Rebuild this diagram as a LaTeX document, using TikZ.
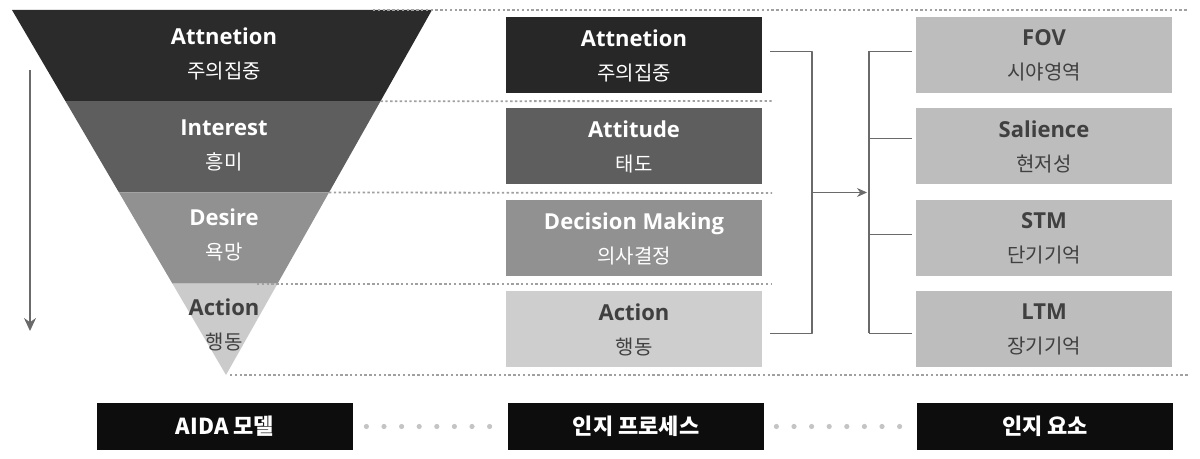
\documentclass[tikz,border=0pt]{standalone}
\usepackage{fontspec}
\setmainfont{Open Sans}
\newfontfamily\kr{Noto Sans CJK KR}
\usetikzlibrary{calc,arrows.meta}
\definecolor{gA}{HTML}{2B2B2B}
\definecolor{gI}{HTML}{5E5E5E}
\definecolor{gD}{HTML}{919191}
\definecolor{gC}{HTML}{CBCBCB}
\definecolor{gE}{HTML}{BDBDBD}
\definecolor{txtdark}{HTML}{404040}
\definecolor{linegray}{HTML}{6A6A6A}
\definecolor{dotgray}{HTML}{A0A0A0}
\definecolor{sepgray}{HTML}{C4C4C4}
\newcommand{\stagetext}[2]{{\bfseries #1}\\{\kr\fontsize{10}{17}\selectfont #2}}
\tikzset{
  stage/.style={minimum width=128pt, minimum height=38pt, inner sep=0pt, align=center,
    font=\fontsize{11}{17}\selectfont},
  tag/.style={fill=black!95, text=white, minimum width=128pt, minimum height=23.5pt, inner sep=0pt,
    font=\kr\bfseries\fontsize{11}{13}\selectfont},
  guide/.style={dotgray, line width=0.9pt, dash pattern=on 1.2pt off 1.2pt},
  link/.style={linegray, line width=0.7pt},
}
\begin{document}
\begin{tikzpicture}[x=0.5pt, y=-0.5pt, >={Stealth[length=5pt,width=4.5pt]}, line join=round]
	\useasboundingbox (0,0) rectangle (1200,459);
	% funnel
	\coordinate (TL)at(12,10);
	\coordinate (TR)at(432,10);
	\coordinate (Ap)at(226,375);
	\foreach \a/\b/\c in {0/0.25/gA, 0.25/0.5/gI, 0.5/0.75/gD, 0.75/1/gC}
		\fill[\c] ($(TL)!\a!(Ap)$)--($(TR)!\a!(Ap)$)--($(TR)!\b!(Ap)$)--($(TL)!\b!(Ap)$)--cycle;
	\node[stage, text=white] (fA) at (224,54) {\stagetext{Attnetion}{주의집중}};
	\node[stage, text=white] (fI) at (224,145) {\stagetext{Interest}{흥미}};
	\node[stage, text=white] (fD) at (224,235) {\stagetext{Desire}{욕망}};
	\node[stage, text=txtdark] (fC) at (224,325) {\stagetext{Action}{행동}};
	% order arrow
	\coordinate (s0)at(30,70);
	\coordinate (s1)at(30,331);
	\draw[-{Stealth[length=6.5pt,width=6pt]}, linegray, line width=0.7pt] (s0)--(s1);
	% guide lines
	\draw[guide] (373,10)--(1188,10);
	\draw[guide] ($(TR)!0.25!(Ap)$)--(772,101);
	\draw[guide] ($(TR)!0.5!(Ap)$)--(772,193);
	\draw[guide] (257,284)--(772,284);
	\draw[guide] (230,375)--(1188,375);
	% cognitive process
	\node[stage, fill=gA!90!black, text=white] (pA) at (634,55.5) {\stagetext{Attnetion}{주의집중}};
	\node[stage, fill=gI, text=white] (pT) at (634,146.5) {\stagetext{Attitude}{태도}};
	\node[stage, fill=gD, text=white] (pM) at (634,238.5) {\stagetext{Decision Making}{의사결정}};
	\node[stage, fill=gC!95!white, text=txtdark] (pC) at (634,329.5) {\stagetext{Action}{행동}};
	% cognitive elements
	\node[stage, fill=gE, text=txtdark] (eF) at (1044,55.5) {\stagetext{FOV}{시야영역}};
	\node[stage, fill=gE, text=txtdark] (eS) at (1044,146.5) {\stagetext{Salience}{현저성}};
	\node[stage, fill=gE, text=txtdark] (eT) at (1044,238.5) {\stagetext{STM}{단기기억}};
	\node[stage, fill=gE, text=txtdark] (eL) at (1044,329.5) {\stagetext{LTM}{장기기억}};
	% brackets
	\coordinate (bl)at(812,0);
	\coordinate (br)at(869,0);
	\coordinate (a1) at ([xshift=4pt,yshift=2pt]pA.east);
	\coordinate (a4) at ([xshift=4pt,yshift=-2pt]pC.east);
	\coordinate (mid) at ($(a1)!0.5!(a4)$);
	\draw[link] (a1)--(a1 -| bl)--(a4 -| bl)--(a4);
	\draw[link, ->] (mid -| bl)--([xshift=-1pt]mid -| br);
	\coordinate (b1) at ([xshift=-2pt,yshift=2pt]eF.west);
	\coordinate (b2) at ([xshift=-2pt,yshift=4pt]eS.west);
	\coordinate (b3) at ([xshift=-2pt,yshift=2pt]eT.west);
	\coordinate (b4) at ([xshift=-2pt,yshift=-2pt]eL.west);
	\draw[link] (b1 -| br)--(b4 -| br);
	\foreach \n in {b1,b2,b3,b4}
		\draw[link] (\n -| br)--(\n);
	% column tags
	\node[tag] (tA) at (225,426.5) {AIDA 모델};
	\node[tag] (tP) at (636,426.5) {인지 프로세스};
	\node[tag] (tE) at (1045,426.5) {인지 요소};
	\foreach \x in {0,...,7}{
		\fill[sepgray] ($(tA.east)+(6.5pt+\x*8.8pt,0pt)$) circle (1.3pt);
		\fill[sepgray] ($(tP.east)+(6pt+\x*8.8pt,0pt)$) circle (1.3pt);
	}
\end{tikzpicture}
\end{document}
